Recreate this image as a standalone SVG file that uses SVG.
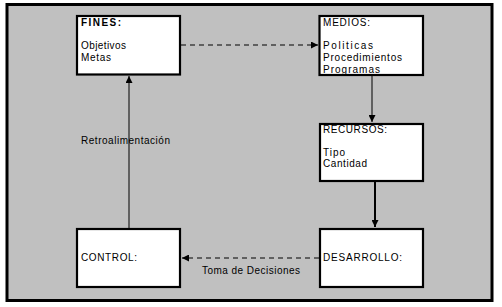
<svg xmlns="http://www.w3.org/2000/svg" width="502" height="307" viewBox="0 0 502 307">
<style>
.box{fill:#ffffff;stroke:#000000;stroke-width:2.2}
.t{font-family:"Liberation Sans",Arial,sans-serif;font-size:10px;fill:#000000}
.ln{stroke:#000000;fill:none}
.dash{stroke-dasharray:5 4}
</style>
<defs>
<marker id="ah" viewBox="0 0 10 10" refX="10" refY="5" markerWidth="7" markerHeight="7" markerUnits="userSpaceOnUse" orient="auto">
<path d="M0,0 L10,5 L0,10 Z" fill="#000000"/>
</marker>
</defs>
<rect width="502" height="307" fill="#ffffff"/>
<rect x="7" y="4.5" width="485" height="296" fill="#c0c0c0" stroke="#000000" stroke-width="3"/>
<g id="connectors">
<line class="ln dash" x1="181" y1="45" x2="318" y2="45" stroke-width="1" marker-end="url(#ah)"/>
<line class="ln" x1="372" y1="76" x2="372" y2="122" stroke-width="1" marker-end="url(#ah)"/>
<line class="ln" x1="375" y1="182" x2="375" y2="227" stroke-width="2" marker-end="url(#ah)"/>
<line class="ln dash" x1="319" y1="258" x2="182" y2="258" stroke-width="1" marker-end="url(#ah)"/>
<line class="ln" x1="129" y1="228" x2="129" y2="76" stroke-width="1" marker-end="url(#ah)"/>
<text class="t" x="81" y="144" textLength="89" lengthAdjust="spacing">Retroalimentación</text>
<text class="t" x="202" y="274" textLength="98" lengthAdjust="spacing">Toma de Decisiones</text>
</g>
<g id="fines">
<rect class="box" x="77" y="16" width="103" height="58.5"/>
<text class="t" x="81" y="26" textLength="40" lengthAdjust="spacing" font-weight="bold">FINES:</text>
<text class="t" x="81" y="48.5" textLength="45" lengthAdjust="spacing">Objetivos</text>
<text class="t" x="81" y="61" textLength="30" lengthAdjust="spacing">Metas</text>
</g>
<g id="medios">
<rect class="box" x="319.5" y="16" width="103.5" height="59"/>
<text class="t" x="323" y="26" textLength="47" lengthAdjust="spacing">MEDIOS:</text>
<text class="t" x="323" y="48.5" textLength="50" lengthAdjust="spacing">Politicas</text>
<text class="t" x="323" y="61" textLength="79" lengthAdjust="spacing">Procedimientos</text>
<text class="t" x="323" y="72.5" textLength="57" lengthAdjust="spacing">Programas</text>
</g>
<g id="recursos">
<rect class="box" x="320" y="124" width="103" height="57"/>
<text class="t" x="323" y="133" textLength="64" lengthAdjust="spacing">RECURSOS:</text>
<text class="t" x="323" y="156" textLength="22" lengthAdjust="spacing">Tipo</text>
<text class="t" x="323" y="167" textLength="44" lengthAdjust="spacing">Cantidad</text>
</g>
<g id="desarrollo">
<rect class="box" x="320" y="229" width="103" height="58"/>
<text class="t" x="323" y="261" textLength="79" lengthAdjust="spacing">DESARROLLO:</text>
</g>
<g id="control">
<rect class="box" x="77" y="229" width="103" height="58"/>
<text class="t" x="81" y="261" textLength="56" lengthAdjust="spacing">CONTROL:</text>
</g>
</svg>
